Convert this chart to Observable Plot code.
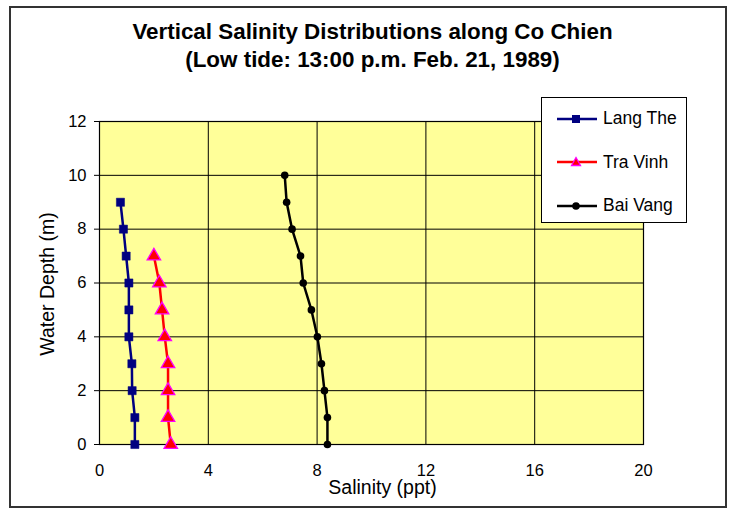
<!DOCTYPE html>
<html><head><meta charset="utf-8">
<script src="https://cdn.jsdelivr.net/npm/d3@7"></script>
<script src="https://cdn.jsdelivr.net/npm/@observablehq/plot@0.6"></script>
<style>
body{margin:0;background:#fff;font-family:"Liberation Sans",Arial,sans-serif}
#wrap{position:relative;width:732px;height:517px;overflow:hidden}
#frame{position:absolute;left:9px;top:6px;width:718px;height:502px;border:2px solid #333;box-sizing:border-box;pointer-events:none}
#chart{position:absolute;left:0;top:0}
.title{position:absolute;left:0;width:745px;text-align:center;font-weight:bold;font-size:22.4px;line-height:26px;color:#000}
#xlabel{position:absolute;left:0;width:765px;top:476px;text-align:center;font-size:19.5px;line-height:22px}
#ylabel{position:absolute;left:47px;top:284px;transform:translate(-50%,-50%) rotate(-90deg);font-size:19.5px;line-height:22px;white-space:nowrap}
#legend{position:absolute;left:541px;top:97px;width:146px;height:126px;border:1px solid #000;background:#fff;box-sizing:border-box}
.li{position:absolute;left:14px;font-size:17.5px;display:flex;align-items:center}
.li svg{margin-right:5px}
</style></head>
<body><div id="wrap">
<div id="chart"></div>
<div class="title" style="top:19px">Vertical Salinity Distributions along Co Chien</div>
<div class="title" style="top:47px">(Low tide: 13:00 p.m. Feb. 21, 1989)</div>
<div id="xlabel">Salinity (ppt)</div>
<div id="ylabel">Water Depth (m)</div>
<div id="legend"></div>
<div id="frame"></div>
</div>
<script>
// Data
const seriesNames = ["Lang The", "Tra Vinh", "Bai Vang"];
const langTheDepth = [0, 1, 2, 3, 4, 5, 6, 7, 8, 9];
const langTheSal   = [1.3, 1.3, 1.2, 1.19, 1.08, 1.08, 1.08, 0.98, 0.88, 0.77];
const traVinhDepth = [0, 1, 2, 3, 4, 5, 6, 7];
const traVinhSal   = [2.62, 2.52, 2.52, 2.52, 2.4, 2.3, 2.2, 2.0];
const baiVangDepth = [0, 1, 2, 3, 4, 5, 6, 7, 8, 9, 10];
const baiVangSal   = [8.38, 8.38, 8.27, 8.16, 8.01, 7.79, 7.49, 7.39, 7.08, 6.88, 6.81];
const xTicks = [0, 4, 8, 12, 16, 20];
const yTicks = [0, 2, 4, 6, 8, 10, 12];

const toRows = (name, ds, ss) => ds.map((d, i) => ({series: name, depth: d, sal: ss[i]}));
const langThe = toRows(seriesNames[0], langTheDepth, langTheSal);
const traVinh = toRows(seriesNames[1], traVinhDepth, traVinhSal);
const baiVang = toRows(seriesNames[2], baiVangDepth, baiVangSal);

const plot = Plot.plot({
  width: 732, height: 517,
  marginLeft: 99, marginRight: 89, marginTop: 121, marginBottom: 73,
  style: {fontFamily: '"Liberation Sans", Arial, sans-serif', fontSize: "16.5px", color: "#000", background: "transparent"},
  x: {domain: [0, 20]},
  y: {domain: [0, 12]},
  marks: [
    Plot.frame({fill: "#ffff99"}),
    Plot.gridX(xTicks, {stroke: "#000", strokeOpacity: 1}),
    Plot.gridY(yTicks, {stroke: "#000", strokeOpacity: 1}),
    Plot.frame({stroke: "#000", strokeWidth: 1.2}),
    Plot.axisX(xTicks, {tickSize: 0, tickPadding: 20, label: null, fontSize: 16.5}),
    Plot.axisY(yTicks, {tickSize: 5, tickPadding: 8, label: null, fontSize: 16.5}),
    Plot.line(langThe, {x: "sal", y: "depth", stroke: "#000080", strokeWidth: 2.5}),
    Plot.dot(langThe, {x: "sal", y: "depth", symbol: "square", r: 4.6, fill: "#000080", stroke: "#000080", strokeWidth: 0.5}),
    Plot.line(traVinh, {x: "sal", y: "depth", stroke: "#ff0000", strokeWidth: 2.5}),
    Plot.dot(traVinh, {x: "sal", y: "depth", symbol: "triangle", r: 5, fill: "#ff0000", stroke: "#ff00ff", strokeWidth: 1.3}),
    Plot.line(baiVang, {x: "sal", y: "depth", stroke: "#000", strokeWidth: 2.5}),
    Plot.dot(baiVang, {x: "sal", y: "depth", symbol: "circle", r: 3.8, fill: "#000"})
  ]
});
document.getElementById("chart").append(plot);

// Legend
const legendSpecs = [
  {name: seriesNames[0], color: "#000080", sym: '<rect x="16" y="4" width="8" height="8" fill="#000080"/>'},
  {name: seriesNames[1], color: "#ff0000", sym: '<path d="M20 3.5 L24.5 11.5 L15.5 11.5 Z" fill="#ff0000" stroke="#ff00ff" stroke-width="1.3"/>'},
  {name: seriesNames[2], color: "#000", sym: '<circle cx="20" cy="8" r="3.8" fill="#000"/>'}
];
const legend = document.getElementById("legend");
legendSpecs.forEach((s, i) => {
  const d = document.createElement("div");
  d.className = "li";
  d.style.top = (10 + i * 43.5) + "px";
  d.innerHTML = `<svg width="42" height="16"><line x1="1" y1="8" x2="41" y2="8" stroke="${s.color}" stroke-width="2.5"/>${s.sym}</svg><span>${s.name}</span>`;
  legend.append(d);
});
</script>
</body></html>
